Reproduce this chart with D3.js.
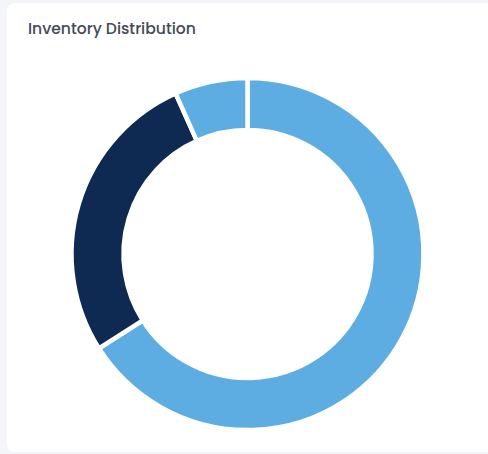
<!DOCTYPE html>
<html lang="en">
<head>
<meta charset="utf-8">
<title>Inventory Distribution</title>
<script src="https://cdn.jsdelivr.net/npm/d3@7"></script>
<style>
  html, body { margin: 0; padding: 0; background: #f4f5f9; }
  #card {
    position: absolute; left: 7px; top: 3px; width: 490px; height: 449px;
    background: #fff; border-radius: 8px;
  }
  #card text.title {
    font-family: Poppins, Inter, "Noto Sans", sans-serif;
    font-size: 15.6px; font-weight: 500; fill: #454a54;
  }
</style>
</head>
<body>
<div id="card"></div>
<script>
// slice values (share of inventory)
var labels = ["In Stock", "Low Stock", "Out of Stock"];
var values = [66, 27.3, 6.7];
var colors = ["#5dade2", "#0e2a52", "#5dade2"];

var width = 488, height = 454;
var svg = d3.select("#card").append("svg")
    .attr("width", width)
    .attr("height", height)
    .style("position", "absolute")
    .style("left", "-7px")
    .style("top", "-3px");

svg.append("text")
    .attr("class", "title")
    .attr("x", 28)
    .attr("y", 33.5)
    .text("Inventory Distribution");

var pie = d3.pie().sort(null).value(function(d) { return d; });
var arc = d3.arc().innerRadius(124).outerRadius(176);

var g = svg.append("g")
    .attr("transform", "translate(247.5,254)");

g.selectAll("path")
    .data(pie(values))
    .enter()
    .append("path")
    .attr("d", arc)
    .attr("fill", function(d, i) { return colors[i]; })
    .attr("stroke", "#fff")
    .attr("stroke-width", 4.5)
    .append("title")
    .text(function(d, i) { return labels[i]; });
</script>
</body>
</html>
